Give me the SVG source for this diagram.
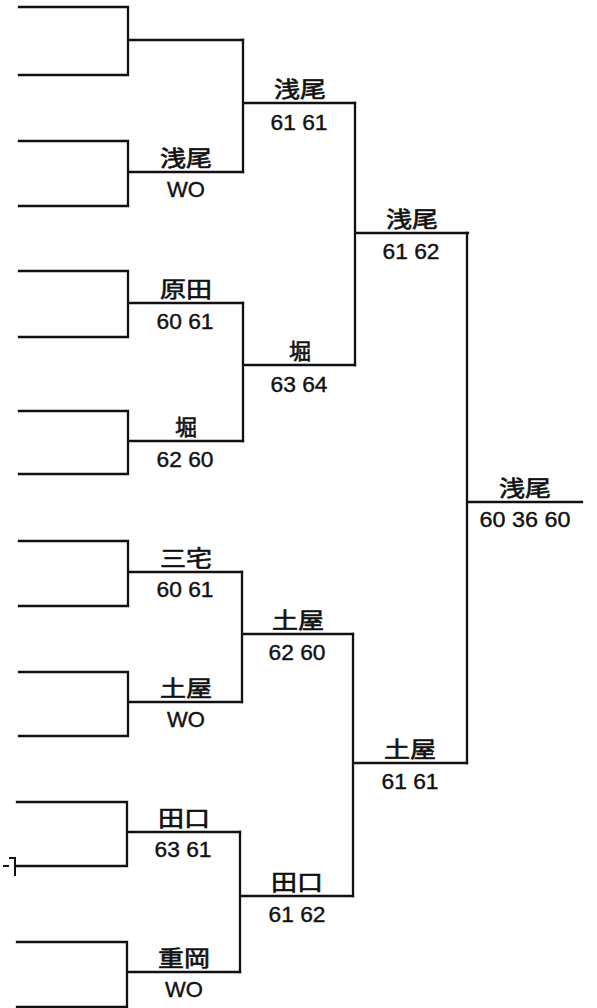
<svg xmlns="http://www.w3.org/2000/svg" width="597" height="1008" viewBox="0 0 597 1008">
<style>
.ln{stroke:#111;stroke-width:2.3;fill:none;stroke-linecap:square}
.nm{font-family:"Noto Sans CJK JP","Noto Sans CJK SC",sans-serif;font-size:22px;font-weight:400;fill:#111;stroke:#111;stroke-width:0.6;text-anchor:middle}
.sc{font-family:"Liberation Sans",Arial,sans-serif;font-size:22px;fill:#111;stroke:#111;stroke-width:0.4;text-anchor:middle}
</style>
<rect width="597" height="1008" fill="#fff"/>
<g id="connectors" class="ln">
<path d="M19 7H128V75H19M128 40H243"/>
<path d="M19 141H128V206H19M128 172H243"/>
<path d="M19 271H128V337H19M128 303H243"/>
<path d="M19 411H128V474H19M128 441H243"/>
<path d="M19 541H128V606H19M128 572H242"/>
<path d="M19 672H128V736H19M128 702H242"/>
<path d="M17 802H127V866H17M127 832H240"/>
<path d="M17 942H127V1007H17M127 972H240"/>
<path d="M243 40V172M243 103H355"/>
<path d="M243 303V441M243 365H355"/>
<path d="M242 572V702M242 634H353"/>
<path d="M240 832V972M240 896H353"/>
<path d="M355 103V365M355 233H468"/>
<path d="M353 634V896M353 763H467"/>
<path d="M467 233V763M467 502H582"/>
<path d="M4 866H8M10 858H15V875" stroke-width="2"/>
</g>
<g id="m1-2"><text class="nm" x="186" y="166" textLength="52" lengthAdjust="spacingAndGlyphs">浅尾</text><text class="sc" x="186" y="197">WO</text></g>
<g id="m1-3"><text class="nm" x="186" y="297" textLength="52" lengthAdjust="spacingAndGlyphs">原田</text><text class="sc" x="185" y="329" textLength="57" lengthAdjust="spacingAndGlyphs">60 61</text></g>
<g id="m1-4"><text class="nm" x="186" y="435">堀</text><text class="sc" x="185" y="467" textLength="57" lengthAdjust="spacingAndGlyphs">62 60</text></g>
<g id="m1-5"><text class="nm" x="186" y="566" textLength="52" lengthAdjust="spacingAndGlyphs">三宅</text><text class="sc" x="185" y="597" textLength="57" lengthAdjust="spacingAndGlyphs">60 61</text></g>
<g id="m1-6"><text class="nm" x="186" y="696" textLength="52" lengthAdjust="spacingAndGlyphs">土屋</text><text class="sc" x="186" y="727">WO</text></g>
<g id="m1-7"><text class="nm" x="184" y="826" textLength="52" lengthAdjust="spacingAndGlyphs">田口</text><text class="sc" x="183" y="857" textLength="57" lengthAdjust="spacingAndGlyphs">63 61</text></g>
<g id="m1-8"><text class="nm" x="184" y="966" textLength="52" lengthAdjust="spacingAndGlyphs">重岡</text><text class="sc" x="184" y="997">WO</text></g>
<g id="m2-1"><text class="nm" x="300" y="97" textLength="52" lengthAdjust="spacingAndGlyphs">浅尾</text><text class="sc" x="299" y="130" textLength="57" lengthAdjust="spacingAndGlyphs">61 61</text></g>
<g id="m2-2"><text class="nm" x="300" y="359">堀</text><text class="sc" x="299" y="392" textLength="57" lengthAdjust="spacingAndGlyphs">63 64</text></g>
<g id="m2-3"><text class="nm" x="298" y="628" textLength="52" lengthAdjust="spacingAndGlyphs">土屋</text><text class="sc" x="297" y="660" textLength="57" lengthAdjust="spacingAndGlyphs">62 60</text></g>
<g id="m2-4"><text class="nm" x="297" y="890" textLength="52" lengthAdjust="spacingAndGlyphs">田口</text><text class="sc" x="297" y="922" textLength="57" lengthAdjust="spacingAndGlyphs">61 62</text></g>
<g id="m3-1"><text class="nm" x="412" y="227" textLength="52" lengthAdjust="spacingAndGlyphs">浅尾</text><text class="sc" x="411" y="259" textLength="57" lengthAdjust="spacingAndGlyphs">61 62</text></g>
<g id="m3-2"><text class="nm" x="410" y="757" textLength="52" lengthAdjust="spacingAndGlyphs">土屋</text><text class="sc" x="410" y="789" textLength="57" lengthAdjust="spacingAndGlyphs">61 61</text></g>
<g id="final"><text class="nm" x="525" y="496" textLength="52" lengthAdjust="spacingAndGlyphs">浅尾</text><text class="sc" x="525" y="527" textLength="91" lengthAdjust="spacingAndGlyphs">60 36 60</text></g>
</svg>
